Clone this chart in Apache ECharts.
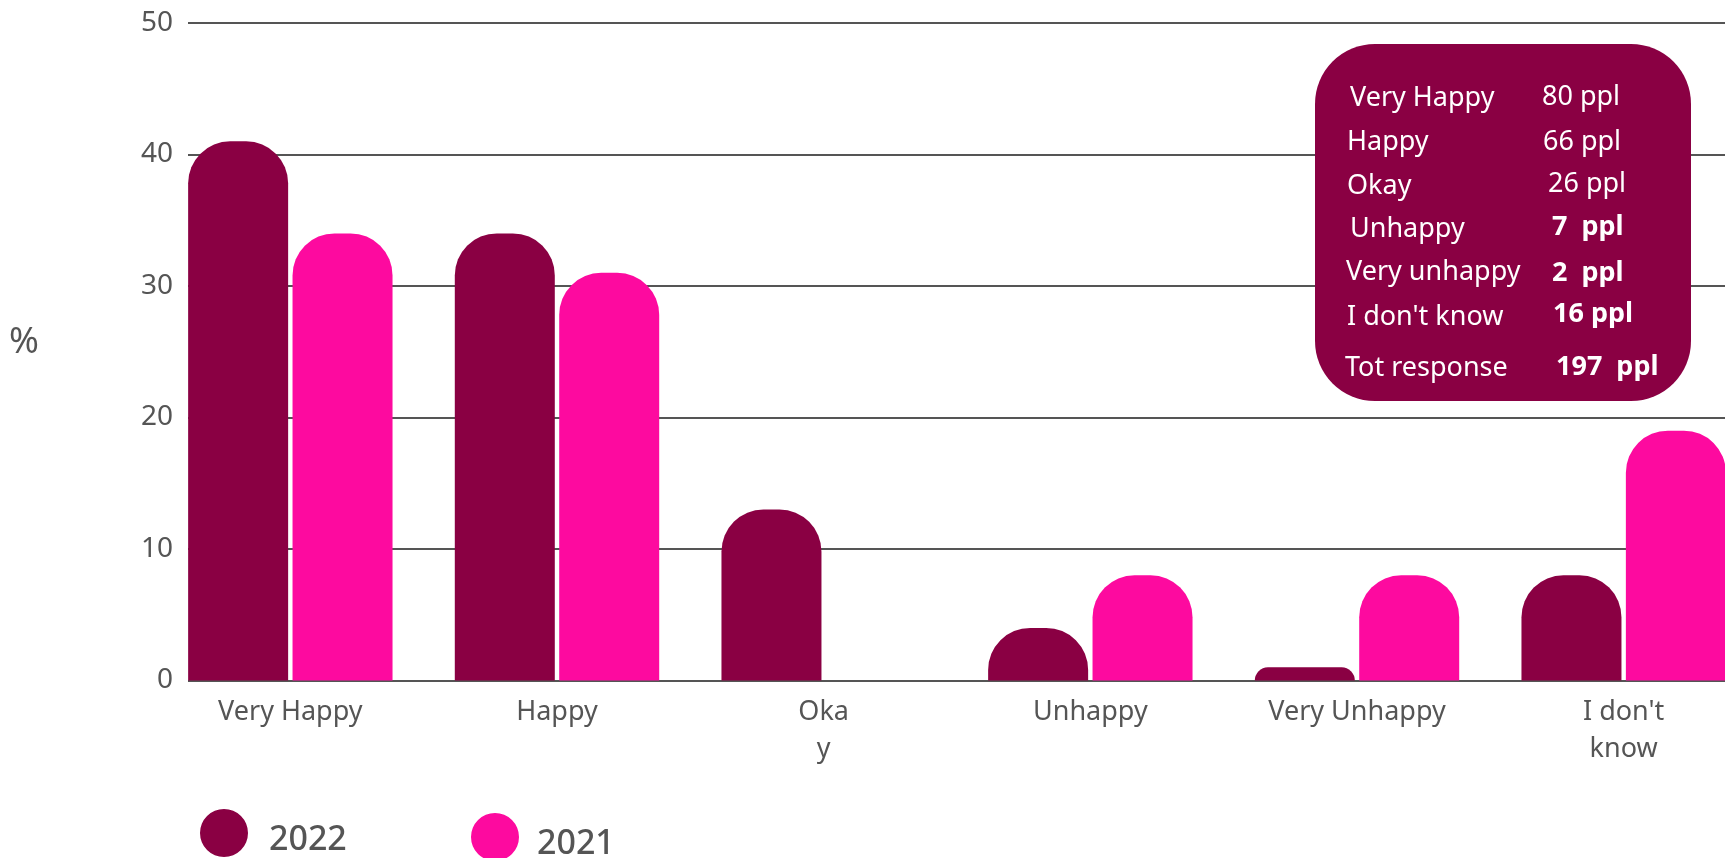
<!DOCTYPE html>
<html>
<head>
<meta charset="utf-8">
<script src="https://cdn.jsdelivr.net/npm/echarts@6/dist/echarts.min.js"></script>
<style>
html,body{margin:0;padding:0;background:#fff;}
#chart{width:1725px;height:858px;}
</style>
</head>
<body>
<div id="chart"></div>
<script>
// ---- data ----
const categories = ['Very Happy', 'Happy', 'Okay', 'Unhappy', 'Very Unhappy', "I don't know"];
const axisLabels = ['Very Happy', 'Happy', 'Oka\ny', 'Unhappy', 'Very Unhappy', "I don't\nknow"];
const seriesNames = ['2022', '2021'];
const values2022 = [41, 34, 13, 4, 1, 8];
const values2021 = [34, 31, 0, 8, 8, 19];
const yMin = 0, yMax = 50, yStep = 10;
const boxLabels = ['Very Happy', 'Happy', 'Okay', 'Unhappy', 'Very unhappy', "I don't know", 'Tot response'];
const boxCounts = ['80 ppl', '66 ppl', '26 ppl', '7  ppl', '2  ppl', '16 ppl', '197  ppl'];
const boxBold = [false, false, false, true, true, true, true];

// ---- layout ----
const FONT = '"Noto Sans", sans-serif';
const GRAY = '#555555';
const DARK = '#8A0043';
const PINK = '#FD0A9F';
const boxLeftX = [1350, 1347, 1347, 1350, 1346, 1347, 1345];
const boxLeftY = [98, 142, 186, 229, 272, 317, 368];
const boxRightX = [1542, 1543, 1548, 1552, 1552, 1553, 1556];
const boxRightY = [97, 142, 184, 227, 273, 314, 367];
// circle icon (48px) with its text centred a little below the circle centre
const LEGEND_ICON = 'path://M0,24 A24,24 0 1,1 48,24 A24,24 0 1,1 0,24 Z M24,62 L24.01,62';

const chart = echarts.init(document.getElementById('chart'), null, {renderer: 'canvas'});

const graphics = [{
  type: 'rect', z: 10,
  shape: {x: 1315, y: 44, width: 376, height: 357, r: 60},
  style: {fill: DARK}
}];
boxLabels.forEach((t, i) => {
  graphics.push({
    type: 'text', z: 11,
    style: {text: t, x: boxLeftX[i], y: boxLeftY[i], fill: '#fff',
      font: '27px ' + FONT, align: 'left', verticalAlign: 'middle'}
  });
  graphics.push({
    type: 'text', z: 11,
    style: {text: boxCounts[i], x: boxRightX[i], y: boxRightY[i], fill: '#fff',
      font: (boxBold[i] ? 'bold ' : '') + '27px ' + FONT, align: 'left', verticalAlign: 'middle'}
  });
});

const option = {
  animation: false,
  backgroundColor: '#fff',
  textStyle: {fontFamily: FONT},
  title: {
    text: '%', left: 9, top: 325, padding: 0,
    textStyle: {fontSize: 36, fontWeight: 'normal', color: GRAY, fontFamily: FONT}
  },
  legend: [
    {
      data: [seriesNames[0]], left: 200, top: 809, padding: 0,
      icon: LEGEND_ICON, itemWidth: 48, itemHeight: 62,
      textStyle: {fontSize: 34, fontWeight: 500, color: GRAY, fontFamily: FONT, padding: [0, 0, 0, 16]}
    },
    {
      data: [seriesNames[1]], left: 471, top: 813, padding: 0,
      icon: LEGEND_ICON, itemWidth: 48, itemHeight: 62,
      textStyle: {fontSize: 34, fontWeight: 500, color: GRAY, fontFamily: FONT, padding: [0, 0, 0, 13]}
    }
  ],
  grid: [
    {left: 157, width: 1600, top: 23, bottom: 177.5, containLabel: false, outerBoundsMode: 'none'},
    {left: 188, right: 0, top: 23, bottom: 177.5, containLabel: false, outerBoundsMode: 'none'}
  ],
  xAxis: [
    {
      type: 'category', gridIndex: 0, data: categories,
      axisLine: {show: false}, axisTick: {show: false}, splitLine: {show: false},
      axisLabel: {
        interval: 0, margin: 13, fontSize: 27, lineHeight: 37, color: GRAY, fontFamily: FONT,
        formatter: (v, i) => axisLabels[i]
      }
    },
    {type: 'value', gridIndex: 1, show: false, min: 0, max: 1}
  ],
  yAxis: [
    {type: 'value', gridIndex: 0, min: yMin, max: yMax, interval: yStep, show: false},
    {
      type: 'value', gridIndex: 1, min: yMin, max: yMax, interval: yStep,
      axisLine: {show: false}, axisTick: {show: false},
      axisLabel: {margin: 15, fontSize: 28, color: GRAY, fontFamily: FONT},
      splitLine: {show: true, lineStyle: {color: GRAY, width: 2}}
    }
  ],
  series: [
    {
      name: seriesNames[0], type: 'bar', xAxisIndex: 0, yAxisIndex: 0,
      data: values2022, barWidth: 100, barGap: '4.4%',
      itemStyle: {color: DARK, borderRadius: [42, 42, 0, 0]}
    },
    {
      name: seriesNames[1], type: 'bar', xAxisIndex: 0, yAxisIndex: 0,
      data: values2021, barWidth: 100, barGap: '4.4%',
      itemStyle: {color: PINK, borderRadius: [42, 42, 0, 0]}
    }
  ],
  graphic: graphics
};
chart.setOption(option);
</script>
</body>
</html>
